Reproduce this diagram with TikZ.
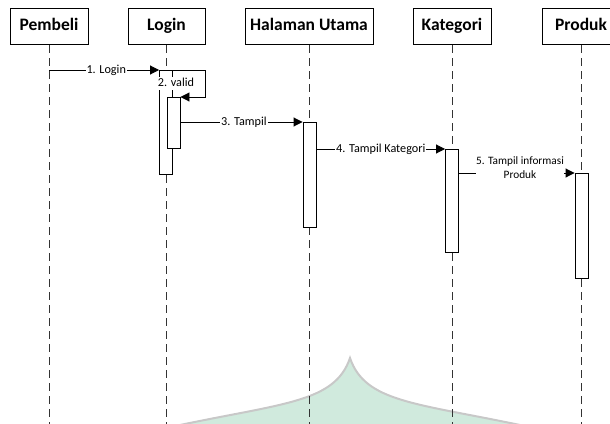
\documentclass[tikz,border=0pt]{standalone}
\usepackage{fontspec}
\setmainfont{Carlito}
\usetikzlibrary{arrows.meta}
\begin{document}
\begin{tikzpicture}[x=1pt,y=-1pt,
  actor/.style={draw, line width=1pt, minimum height=36pt, inner sep=0pt, anchor=north, text height=12pt, text depth=4pt, font=\fontsize{17.5}{19}\selectfont\bfseries},
  life/.style={dash pattern=on 8pt off 5pt, line width=0.9pt, draw=black!80},
  act/.style={draw, fill=white, line width=0.9pt, minimum width=13pt, inner sep=0pt, anchor=north},
  msg/.style={line width=0.9pt, -{Triangle[length=9pt,width=9pt]}},
  lbl/.style={fill=white, inner sep=1pt, text height=8.5pt, text depth=2.5pt, font=\fontsize{12.2}{14}\selectfont}]
\useasboundingbox (0,0) rectangle (610,423);
\clip (0,0) rectangle (610,423);
% watermark
\fill[fill={rgb,255:red,208;green,234;blue,221}, draw={rgb,255:red,200;green,200;blue,200}, line width=2pt]
  (180,425) .. controls (285,403) and (335,402) .. (350,358) .. controls (365,402) and (415,403) .. (520,425) -- cycle;
% actors
\node[actor, minimum width=78pt] (pb) at (49,8) {Pembeli};
\node[actor, minimum width=77pt] (lg) at (166.5,8) {Login};
\node[actor, minimum width=128pt] (hu) at (309,8) {Halaman Utama};
\node[actor, minimum width=78pt] (kt) at (452,8) {Kategori};
\node[actor, minimum width=78pt] (pr) at (581,8) {Produk};
% lifelines
\coordinate (pbend) at (49,425);
\coordinate (lgend) at (166,425);
\coordinate (huend) at (309,425);
\coordinate (ktend) at (452,425);
\coordinate (prend) at (581,425);
\draw[life] (pb.south) -- (pbend);
\draw[life] (lg.south -| lgend) -- (lgend);
\draw[life] (hu.south) -- (huend);
\draw[life] (kt.south) -- (ktend);
\draw[life] (pr.south) -- (prend);
% activations
\node[act, minimum height=104pt] (a1) at (166,70) {};
\node[act, minimum height=51pt] (a2) at (173.5,97) {};
\node[act, minimum height=105pt] (a3) at (309.5,122) {};
\node[act, minimum height=103pt] (a4) at (452,149) {};
\node[act, minimum height=105pt] (a5) at (581.5,173) {};
% messages
\coordinate (m1s) at (49,70);
\draw[msg] (m1s) -- node[lbl, pos=0.52]{1. Login} (a1.north west);
\coordinate (sc) at (205,70);
\draw[msg] (a1.north west) -- (sc) |- (a2.north east);
\node[lbl] (l2) at (176,83) {2. valid};
\coordinate (m3s) at (a2.east |- a3.north);
\draw[msg] (m3s) -- node[lbl, pos=0.52]{3. Tampil} (a3.north west);
\coordinate (m4s) at (a3.east |- a4.north);
\draw[msg] (m4s) -- node[lbl, pos=0.5]{4. Tampil Kategori} (a4.north west);
\coordinate (m5s) at (a4.east |- a5.north);
\draw[msg] (m5s) -- (a5.north west);
\node[lbl, align=center, inner sep=0.5pt, font=\fontsize{11.3}{13.5}\selectfont] (l5) at (520,175) {5. Tampil informasi\\Produk};
\end{tikzpicture}
\end{document}
